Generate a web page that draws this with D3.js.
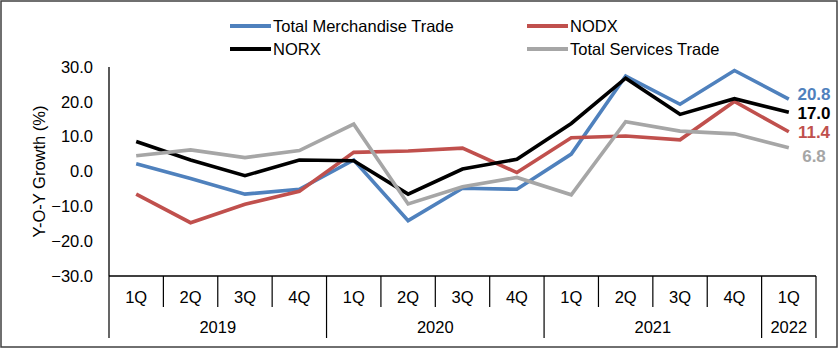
<!DOCTYPE html>
<html><head><meta charset="utf-8">
<script src="https://cdn.jsdelivr.net/npm/d3@7"></script>
<style>body{margin:0;background:#fff}svg{display:block;font-family:"Liberation Sans",Arial,sans-serif}</style>
</head><body><svg id="c" width="839" height="350"></svg>
<script>
const quarters = ["1Q","2Q","3Q","4Q","1Q","2Q","3Q","4Q","1Q","2Q","3Q","4Q","1Q"];
const years = [{label:"2019",n:4},{label:"2020",n:4},{label:"2021",n:4},{label:"2022",n:1}];
const merchandise = [2.2,-2.0,-6.5,-5.1,3.3,-14.1,-4.8,-5.1,5.0,27.4,19.3,29.0,20.8];
const nodx = [-6.5,-14.7,-9.4,-5.7,5.5,5.9,6.7,-0.3,9.7,10.2,9.1,20.1,11.4];
const norx = [8.6,3.3,-1.2,3.3,3.1,-6.5,0.7,3.5,13.8,26.8,16.4,20.9,17.0];
const services = [4.5,6.2,4.0,6.0,13.6,-9.3,-4.4,-1.7,-6.7,14.3,11.6,10.8,6.8];
const yTicks = [-30,-20,-10,0,10,20,30];
const seriesNames = ["Total Merchandise Trade","NODX","NORX","Total Services Trade"];
const seriesColors = ["#4F81BD","#C0504D","#000000","#A6A6A6"];
const seriesData = [merchandise,nodx,norx,services];

const svg = d3.select("#c");
const L=109,R=816,T=67,B=276;
const FS=16.5;
const x = d3.scaleBand().domain(d3.range(quarters.length)).range([L,R]).padding(0);
const y = d3.scaleLinear().domain([-30,30]).range([B,T]);

// outer border
svg.append("rect").attr("x",1).attr("y",1).attr("width",836).attr("height",346)
  .attr("fill","none").attr("stroke","#404040").attr("stroke-width",1.5);

// y axis
svg.append("line").attr("x1",L).attr("x2",L).attr("y1",T).attr("y2",B).attr("stroke","#000").attr("stroke-width",1.3);
svg.selectAll(".yt").data(yTicks).enter().append("text")
  .attr("x",93).attr("y",d=>y(d)).attr("dy","0.35em").attr("text-anchor","end")
  .attr("font-size",FS).attr("fill","#000").text(d=>d3.format(".1f")(d));
svg.append("text").attr("transform",`translate(39,${(T+B)/2}) rotate(-90)`)
  .attr("dy","0.35em").attr("text-anchor","middle").attr("font-size",FS).text("Y-O-Y Growth (%)");

// x axis
svg.append("line").attr("x1",L).attr("x2",R).attr("y1",B).attr("y2",B).attr("stroke","#000").attr("stroke-width",1.3);
svg.selectAll(".qt").data(quarters).enter().append("text")
  .attr("x",(d,i)=>x(i)+x.bandwidth()/2).attr("y",297).attr("dy","0.35em")
  .attr("text-anchor","middle").attr("font-size",FS).text(d=>d);
let yearStarts=[0]; years.forEach(yr=>yearStarts.push(yearStarts[yearStarts.length-1]+yr.n));
d3.range(quarters.length+1).forEach(i=>{
  const xx = i<quarters.length ? x(i) : R;
  const isYear = yearStarts.includes(i);
  svg.append("line").attr("x1",xx).attr("x2",xx).attr("y1",B).attr("y2",isYear?338:307)
    .attr("stroke","#000").attr("stroke-width",1.2);
});
years.forEach((yr,k)=>{
  const s=yearStarts[k], e=yearStarts[k+1];
  const x0=x(s), x1= e<quarters.length? x(e):R;
  svg.append("text").attr("x",(x0+x1)/2).attr("y",327).attr("dy","0.35em")
    .attr("text-anchor","middle").attr("font-size",FS).text(yr.label);
});

// lines
const line = d3.line().x((d,i)=>x(i)+x.bandwidth()/2).y(d=>y(d));
seriesData.forEach((s,k)=>{
  svg.append("path").datum(s).attr("d",line).attr("fill","none")
    .attr("stroke",seriesColors[k]).attr("stroke-width",3.6).attr("stroke-linejoin","miter");
});

// end labels
const labelY = [94,132,113,156];
seriesData.forEach((s,k)=>{
  svg.append("text").attr("x",814).attr("y",labelY[k]).attr("dy","0.35em")
    .attr("text-anchor","middle").attr("font-size",17).attr("font-weight","bold")
    .attr("fill",seriesColors[k]).text(d3.format(".1f")(s[s.length-1]));
});

// legend
const legPos = [[230,26],[527,26],[230,49],[527,49]];
seriesNames.forEach((n,k)=>{
  const [lx,ly]=legPos[k];
  svg.append("line").attr("x1",lx).attr("x2",lx+41).attr("y1",ly).attr("y2",ly)
    .attr("stroke",seriesColors[k]).attr("stroke-width",4);
  svg.append("text").attr("x",lx+43).attr("y",ly).attr("dy","0.35em")
    .attr("font-size",FS).text(n);
});
</script></body></html>
